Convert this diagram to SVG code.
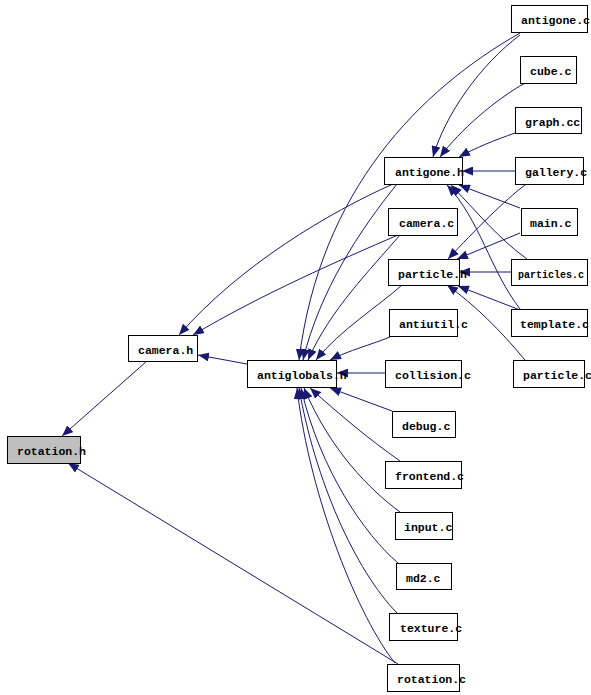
<svg xmlns="http://www.w3.org/2000/svg" width="591" height="695" viewBox="0 0 591 695">
<defs>
<marker id="ah" markerUnits="userSpaceOnUse" markerWidth="12" markerHeight="9" refX="11" refY="4.5" orient="auto"><path d="M0,0 L11,4.5 L0,9 z" fill="#191970"/></marker>
</defs>
<style>
.n rect{fill:#fff;stroke:#000;stroke-width:1}
.n.root rect{fill:#bfbfbf}
.n text{font-family:"Liberation Mono","DejaVu Sans Mono",monospace;font-weight:bold;font-size:11.5px;fill:#000}
.e path{fill:none;stroke:#191970;stroke-width:1;marker-end:url(#ah)}
</style>
<rect width="591" height="695" fill="#fff"/>
<g id="connectors" class="e">
<path d="M147,361 L62,436"/>
<path d="M398,664 L68,463"/>
<path d="M247,364 L198,355"/>
<path d="M393,184 C330,212 240,265 179,335"/>
<path d="M398,235 C340,260 260,295 193,335"/>
<path d="M520,33 C420,90 320,190 299,360"/>
<path d="M520,35 C480,65 445,115 433,157"/>
<path d="M525,83 C495,100 460,130 440,157"/>
<path d="M515,133 C495,140 475,148 459,157"/>
<path d="M515,171 L462,171"/>
<path d="M520,208 L459,185"/>
<path d="M527,259 C500,240 475,210 451,185"/>
<path d="M520,309 C490,270 480,220 447,185"/>
<path d="M397,184 C360,230 320,290 303,360"/>
<path d="M400,235 C370,270 330,310 308,360"/>
<path d="M402,285 C380,305 340,330 316,360"/>
<path d="M390,337 C370,345 350,350 330,360"/>
<path d="M385,373 L337,373"/>
<path d="M392,411 L330,388"/>
<path d="M400,461 C370,440 340,415 310,388"/>
<path d="M400,512 C370,490 330,450 304,388"/>
<path d="M398,563 C365,535 320,470 301,388"/>
<path d="M397,613 C355,570 315,480 299,388"/>
<path d="M395,663 C360,620 310,500 297,388"/>
<path d="M525,185 C505,200 475,230 448,259"/>
<path d="M520,233 L457,259"/>
<path d="M511,272 L459,272"/>
<path d="M520,310 L458,286"/>
<path d="M525,360 C500,330 475,305 447,285"/>
</g>
<g id="rotation_h" class="n root"><rect x="7.5" y="436.5" width="73" height="27"/><text x="17" y="455">rotation.h</text></g>
<g id="camera_h" class="n"><rect x="128.5" y="335.5" width="69" height="26"/><text x="138" y="354">camera.h</text></g>
<g id="antiglobals_h" class="n"><rect x="247.5" y="360.5" width="89" height="27"/><text x="257" y="379">antiglobals.h</text></g>
<g id="antigone_c" class="n"><rect x="511.5" y="5.5" width="76" height="27"/><text x="521" y="24">antigone.c</text></g>
<g id="cube_c" class="n"><rect x="520.5" y="56.5" width="56" height="27"/><text x="530" y="75">cube.c</text></g>
<g id="graph_cc" class="n"><rect x="515.5" y="107.5" width="66" height="26"/><text x="525" y="126">graph.cc</text></g>
<g id="gallery_c" class="n"><rect x="515.5" y="157.5" width="68" height="27"/><text x="525" y="176">gallery.c</text></g>
<g id="antigone_h" class="n"><rect x="384.5" y="157.5" width="78" height="27"/><text x="395" y="176">antigone.h</text></g>
<g id="camera_c" class="n"><rect x="388.5" y="208.5" width="69" height="27"/><text x="399" y="227">camera.c</text></g>
<g id="main_c" class="n"><rect x="521.5" y="208.5" width="56" height="27"/><text x="530" y="227">main.c</text></g>
<g id="particle_h" class="n"><rect x="388.5" y="259.5" width="71" height="26"/><text x="398" y="278">particle.h</text></g>
<g id="particles_c" class="n"><rect x="511.5" y="259.5" width="76" height="26"/><text x="518" y="278" textLength="66" lengthAdjust="spacingAndGlyphs">particles.c</text></g>
<g id="antiutil_c" class="n"><rect x="389.5" y="309.5" width="68" height="27"/><text x="399" y="328">antiutil.c</text></g>
<g id="template_c" class="n"><rect x="511.5" y="309.5" width="76" height="27"/><text x="520" y="328">template.c</text></g>
<g id="collision_c" class="n"><rect x="385.5" y="360.5" width="76" height="27"/><text x="395" y="379">collision.c</text></g>
<g id="particle_c" class="n"><rect x="513.5" y="360.5" width="71" height="27"/><text x="523" y="379">particle.c</text></g>
<g id="debug_c" class="n"><rect x="392.5" y="411.5" width="63" height="26"/><text x="402" y="430">debug.c</text></g>
<g id="frontend_c" class="n"><rect x="385.5" y="461.5" width="76" height="27"/><text x="395" y="480">frontend.c</text></g>
<g id="input_c" class="n"><rect x="395.5" y="512.5" width="57" height="27"/><text x="404" y="531">input.c</text></g>
<g id="md2_c" class="n"><rect x="396.5" y="563.5" width="55" height="26"/><text x="406" y="582">md2.c</text></g>
<g id="texture_c" class="n"><rect x="389.5" y="613.5" width="68" height="27"/><text x="400" y="632">texture.c</text></g>
<g id="rotation_c" class="n"><rect x="387.5" y="664.5" width="72" height="27"/><text x="397" y="683">rotation.c</text></g>
</svg>
